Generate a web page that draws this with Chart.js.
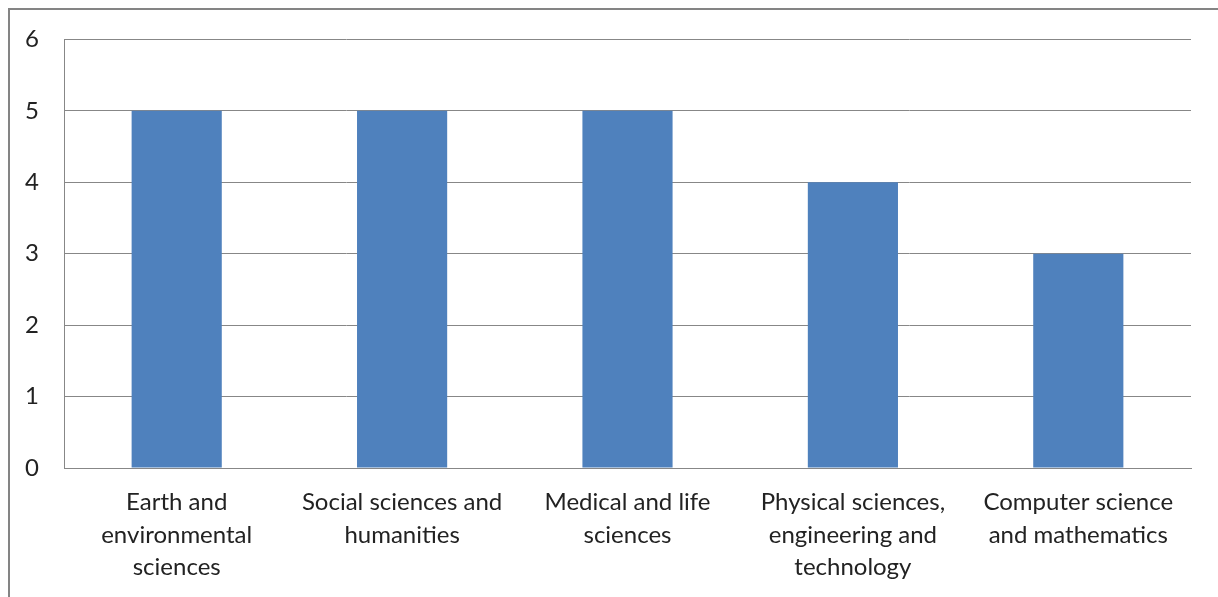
<!DOCTYPE html>
<html>
<head>
<meta charset="utf-8">
<script src="https://cdn.jsdelivr.net/npm/chart.js@4"></script>
<style>
  html, body { margin: 0; padding: 0; background: #fff; }
  #wrap { position: relative; width: 1218px; height: 597px; overflow: hidden; }
  #frame { position: absolute; left: 8px; top: 8px; width: 1300px; height: 700px;
           border-left: 2px solid #848484; border-top: 2px solid #848484; }
  canvas { position: absolute; left: 0; top: 0; }
</style>
</head>
<body>
<div id="wrap">
  <div id="frame"></div>
  <canvas id="myChart" width="1218" height="597"></canvas>
</div>
<script>
var xValues = [
	["Earth and", "environmental", "sciences"],
	["Social sciences and", "humanities"],
	["Medical and life", "sciences"],
	["Physical sciences,", "engineering and", "technology"],
	["Computer science", "and mathematics"]
];
var yValues = [5, 5, 5, 4, 3];
var yTicks = [0, 1, 2, 3, 4, 5, 6];

new Chart("myChart", {
	type: "bar",
	data: {
		labels: xValues,
		datasets: [{
			data: yValues,
			backgroundColor: "#4f81bd",
			barPercentage: 1,
			categoryPercentage: 0.4
		}]
	},
	options: {
		responsive: false,
		animation: false,
		layout: { padding: { top: 39, right: 27, left: 0, bottom: 0 } },
		plugins: {
			legend: { display: false },
			tooltip: { enabled: false }
		},
		scales: {
			x: {
				grid: { display: false, drawTicks: false },
				border: { color: "#878787", width: 1 },
				ticks: {
					color: "#222",
					font: { family: "Lato", size: 24, lineHeight: 1.36 },
					padding: 18,
					maxRotation: 0,
					autoSkip: false
				},
				afterFit: function(scale) { scale.height = 129; }
			},
			y: {
				min: 0,
				max: 6,
				afterBuildTicks: function(scale) {
					scale.ticks = yTicks.map(function(v) { return { value: v }; });
				},
				grid: { color: "#878787", drawTicks: false },
				border: { color: "#878787", width: 1 },
				ticks: {
					color: "#222",
					font: { family: "Lato", size: 24 },
					padding: 25
				},
				afterFit: function(scale) { scale.width = 64; }
			}
		}
	}
});
</script>
</body>
</html>
